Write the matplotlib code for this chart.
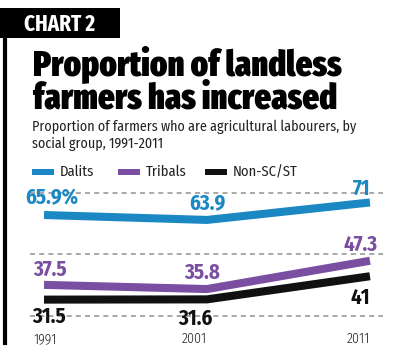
import matplotlib
matplotlib.use("Agg")
import matplotlib.pyplot as plt
from matplotlib.patches import Rectangle
from matplotlib.lines import Line2D

# data
years = [1991, 2001, 2011]
dalits = [65.9, 63.9, 71]
tribals = [37.5, 35.8, 47.3]
non_sc_st = [31.5, 31.6, 41]
dalit_labels = ["65.9%", "63.9", "71"]
tribal_labels = ["37.5", "35.8", "47.3"]
non_labels = ["31.5", "31.6", "41"]
grid_vals = [25, 50, 75]

BLUE = "#1b87c3"
PURPLE = "#7a4ea0"
BLACK = "#111111"

HEAVY = ["Fira Sans Extra Condensed", "DejaVu Sans"]
BODY = ["Fira Sans Condensed", "DejaVu Sans"]

W, H = 400, 351
fig = plt.figure(figsize=(W / 100, H / 100), dpi=100)
fig.patch.set_facecolor("white")


def fx(x):
    return x / W


def fy(y):
    return 1 - y / H


# header box and left rule
fig.add_artist(Rectangle((0, fy(38)), fx(120), 30 / H, transform=fig.transFigure,
                         facecolor="black", edgecolor="none"))
fig.text(fx(60), fy(24), "CHART 2", color="white", fontsize=16.5, fontweight="bold",
         family=HEAVY, ha="center", va="center")
fig.add_artist(Line2D([fx(4.5), fx(4.5)], [fy(38), fy(343)], transform=fig.transFigure,
                      color="black", lw=3))

fig.text(fx(33), fy(64), "Proportion of landless", fontsize=25.5, fontweight=900,
         family=HEAVY, ha="left", va="center")
fig.text(fx(33), fy(99), "farmers has increased", fontsize=25.5, fontweight=900,
         family=HEAVY, ha="left", va="center")
fig.text(fx(32), fy(127), "Proportion of farmers who are agricultural labourers, by",
         fontsize=10.1, family=BODY, ha="left", va="center", color="#222222")
fig.text(fx(32), fy(144), "social group, 1991-2011",
         fontsize=10.1, family=BODY, ha="left", va="center", color="#222222")

# legend
for px, col, lab in [(32, BLUE, "Dalits"), (118, PURPLE, "Tribals"), (205, BLACK, "Non-SC/ST")]:
    fig.add_artist(Rectangle((fx(px), fy(175)), fx(22), 6 / H, transform=fig.transFigure,
                             facecolor=col, edgecolor="none"))
    fig.text(fx(px + 28), fy(172), lab, fontsize=10.5, family=BODY, ha="left", va="center",
             color="#222222")

# chart axes: pixel x 30..383, y 185..330
ax = fig.add_axes([fx(30), fy(330), fx(353), 145 / H])
ax.set_xlim(1990.14, 2011.8)
ax.set_ylim(19.15, 78.1)
ax.axis("off")

for g in grid_vals:
    ax.axhline(g, color="#9a9a9a", lw=1.2, ls=(0, (3, 2.5)), zorder=1)

for vals, col in [(dalits, BLUE), (tribals, PURPLE), (non_sc_st, BLACK)]:
    ax.plot(years, vals, color=col, lw=5.8, solid_joinstyle="round",
            solid_capstyle="butt", zorder=3)

# value labels: offsets in pixels from the data point
offsets = {
    "dalits": [(8, 17), (0, 17), (-8, 13.5)],
    "tribals": [(6, 15), (-5, 16), (-9, 16)],
    "non": [(5, -17), (-12, -19), (-10, -22)],
}
for key, vals, labs, col in [("dalits", dalits, dalit_labels, BLUE),
                             ("tribals", tribals, tribal_labels, PURPLE),
                             ("non", non_sc_st, non_labels, BLACK)]:
    for yr, v, lab, (dx, dy) in zip(years, vals, labs, offsets[key]):
        ax.annotate(lab, (yr, v), xytext=(dx * 0.72, dy * 0.72), textcoords="offset points",
                    ha="center", va="center", fontsize=15, fontweight="bold",
                    family=BODY, color=col, zorder=4)

year_dx = [1, -13, -12]
for yr, dx in zip(years, year_dx):
    ax.annotate(str(yr), (yr, 0), xycoords=("data", "axes fraction"),
                xytext=(dx * 0.72, -9 * 0.72), textcoords="offset points",
                ha="center", va="center", fontsize=10, fontweight=300,
                family=BODY, color="#222222")

fig.savefig("out.png", dpi=100, facecolor="white")
